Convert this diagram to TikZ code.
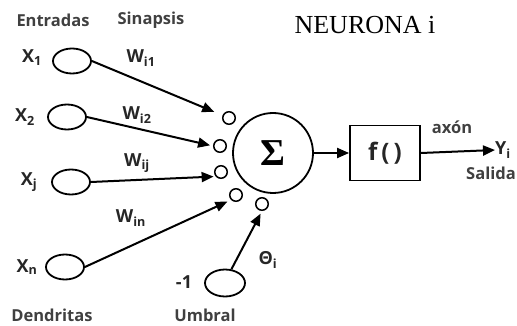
\documentclass[tikz,border=0pt]{standalone}
\usepackage{fontspec}
\setmainfont{Open Sans}
\newfontfamily\titlefont{Liberation Serif}
\usetikzlibrary{arrows.meta,shapes.geometric}

\begin{document}
\begin{tikzpicture}[x=1pt,y=-1pt,
    ent/.style={draw,ellipse,line width=1.8pt,minimum width=38pt,minimum height=25pt,inner sep=0pt},
    syn/.style={draw,circle,line width=1.5pt,minimum size=12.5pt,inner sep=0pt},
    lbl/.style={font=\bfseries\fontsize{18}{18}\selectfont,text=black!85},
    rotulo/.style={font=\bfseries\fontsize{16.5}{16.5}\selectfont,text=black!75},
    flecha/.style={line width=2pt,-{Triangle[length=12pt,width=10pt]}}]
      \useasboundingbox (0,0) rectangle (517,326);
      % rotulos
      \node[rotulo] (entradas) at (53,20) {Entradas};
      \node[rotulo] (sinapsis) at (151,20) {Sinapsis};
      \node[font=\titlefont\fontsize{26}{26}\selectfont] (titulo) at (365,25) {NEURONA i};
      \node[rotulo] (dendritas) at (52,315) {Dendritas};
      \node[rotulo] (umbraltxt) at (205,315) {Umbral};
      % entradas
      \node[ent] (x1) at (72,61) {};
      \node[ent] (x2) at (67,117) {};
      \node[ent] (xj) at (71,182) {};
      \node[ent] (xn) at (65,267) {};
      \node[ent,minimum width=40pt,minimum height=27pt] (umbral) at (225,283) {};
      \node[lbl] (lx1) at (32,58) {X\textsubscript{1}};
      \node[lbl] (lx2) at (25,117) {X\textsubscript{2}};
      \node[lbl] (lxj) at (29,182) {X\textsubscript{j}};
      \node[lbl] (lxn) at (27,267) {X\textsubscript{n}};
      \node[lbl] (menos) at (184,282) {-1};
      % pesos
      \node[lbl] (w1) at (141,58) {W\textsubscript{i1}};
      \node[lbl] (w2) at (137,115) {W\textsubscript{i2}};
      \node[lbl] (wj) at (137,163) {W\textsubscript{ij}};
      \node[lbl] (wn) at (131,218) {W\textsubscript{in}};
      \node[lbl] (theta) at (268,260) {Θ\textsubscript{i}};
      % sinapsis
      \node[syn] (s1) at (229,118) {};
      \node[syn] (s2) at (220,146) {};
      \node[syn] (s3) at (221,172) {};
      \node[syn] (s4) at (236,195) {};
      \node[syn] (s5) at (262,204) {};
      % neurona
      \node[draw,circle,line width=1.8pt,minimum size=80pt,inner sep=0pt] (sigma) at (273,153)
        {\titlefont\bfseries\fontsize{38}{38}\selectfont Σ};
      \node[draw,line width=1.8pt,minimum width=70pt,minimum height=55pt,lbl,font=\bfseries\fontsize{24}{24}\selectfont] (fbox) at (385,153) {f\,(\,)};
      \node[lbl,anchor=west,inner sep=0pt] (yi) at (495,150) {Y\textsubscript{i}};
      \node[rotulo] (axon) at (452,127) {axón};
      \node[rotulo] (salida) at (491,173) {Salida};
      % conexiones
      \draw[flecha,shorten >=9pt] (x1.east) -- (s1);
      \draw[flecha,shorten >=3pt] (x2.east) -- (s2.west);
      \draw[flecha,shorten >=2pt] (xj.east) -- (s3.220);
      \draw[flecha,shorten >=4pt] (xn.east) -- (s4.south west);
      \draw[flecha,shorten >=3pt] (umbral.65) -- (s5.south);
      \draw[flecha] (sigma.east) -- (fbox.west);
      \draw[flecha] (fbox.east) -- (yi.west);
\end{tikzpicture}
\end{document}
